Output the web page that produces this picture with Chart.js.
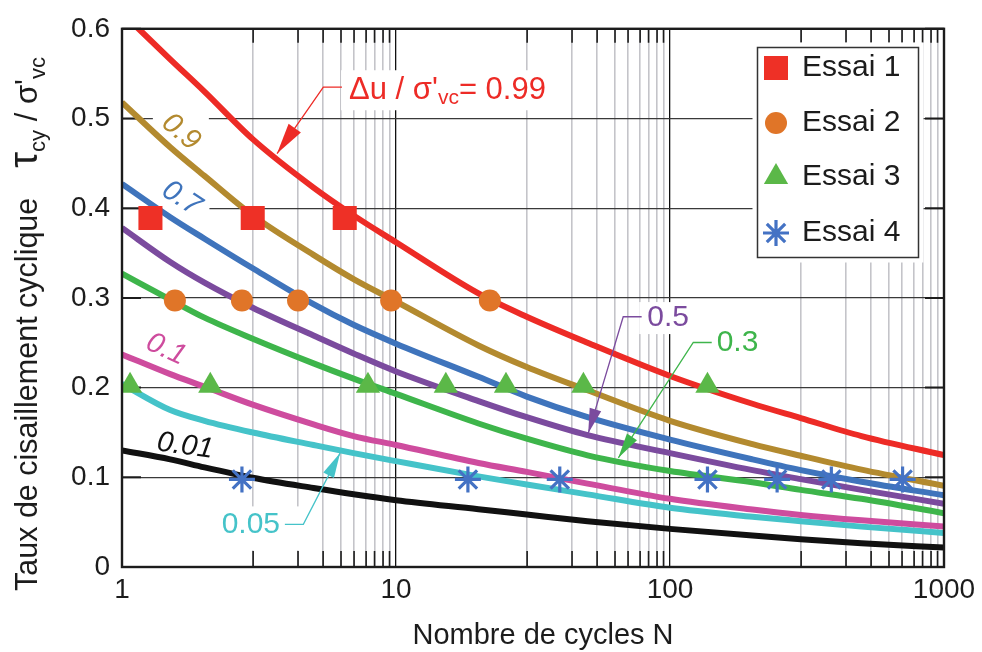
<!DOCTYPE html>
<html>
<head>
<meta charset="utf-8">
<script src="https://cdn.jsdelivr.net/npm/chart.js@4.4.1/dist/chart.umd.min.js"></script>
<style>
  html, body { margin: 0; padding: 0; background: #fff; }
</style>
</head>
<body>
<canvas id="cyclesChart" width="982" height="652"></canvas>
<script>
// Number of cycles N (log axis) at which the curves are sampled
const cycles = [1, 1.5, 2, 3, 5, 7, 10, 20, 30, 50, 100, 200, 300, 500, 1000];

// Cyclic shear ratio tau_cy / sigma'_vc for each pore pressure ratio du / sigma'_vc
const tau099 = [0.618, 0.566, 0.53, 0.477, 0.423, 0.392, 0.362, 0.305, 0.279, 0.25, 0.213, 0.182, 0.166, 0.146, 0.1247];
const tau090 = [0.518, 0.468, 0.436, 0.392, 0.348, 0.321, 0.296, 0.247, 0.223, 0.197, 0.163, 0.137, 0.124, 0.1085, 0.0905];
const tau070 = [0.427, 0.39, 0.366, 0.333, 0.293, 0.27, 0.249, 0.212, 0.19, 0.167, 0.142, 0.12, 0.108, 0.095, 0.08];
const tau050 = [0.378, 0.34, 0.317, 0.289, 0.258, 0.238, 0.218, 0.185, 0.167, 0.147, 0.127, 0.108, 0.098, 0.086, 0.0705];
const tau030 = [0.327, 0.298, 0.278, 0.2545, 0.227, 0.21, 0.193, 0.16, 0.143, 0.1245, 0.107, 0.0945, 0.086, 0.076, 0.06];
const tau010 = [0.237, 0.215, 0.201, 0.181, 0.159, 0.146, 0.136, 0.116, 0.106, 0.093, 0.076, 0.064, 0.058, 0.052, 0.0452];
const tau005 = [0.204, 0.175, 0.163, 0.15, 0.136, 0.127, 0.118, 0.101, 0.092, 0.081, 0.066, 0.056, 0.051, 0.045, 0.038];
const tau001 = [0.13, 0.12, 0.111, 0.0995, 0.088, 0.081, 0.0745, 0.0645, 0.0585, 0.051, 0.0425, 0.035, 0.031, 0.0265, 0.0217];

// Test results
const essai1N = [1.27, 3.0, 6.5];
const essai1Tau = [0.389, 0.389, 0.389];
const essai2N = [1.56, 2.74, 4.39, 9.6, 22.0];
const essai2Tau = [0.297, 0.297, 0.297, 0.297, 0.297];
const essai3N = [1.07, 2.1, 7.9, 15.2, 25.2, 48.3, 137];
const essai3Tau = [0.202, 0.202, 0.202, 0.202, 0.202, 0.202, 0.202];
const essai4N = [2.74, 18.3, 39.6, 137, 246, 388, 706];
const essai4Tau = [0.0976, 0.0976, 0.0976, 0.0976, 0.0976, 0.0976, 0.0976];

// Axis ticks
const xDecades = [1, 10, 100, 1000];
const xMinorSteps = [3.01, 4.39, 5.42, 6.3, 7.03, 7.78, 8.35, 8.97, 9.47];
const yTickValues = [0, 0.1, 0.2, 0.3, 0.4, 0.5, 0.6];

const FONT = '"Liberation Sans", Arial, Helvetica, sans-serif';
const INK = "#1c1c1c";

const xGridValues = [];
xDecades.forEach((d) => {
  xGridValues.push(d);
  if (d < 1000) xMinorSteps.forEach((s) => xGridValues.push(+(d * s).toFixed(3)));
});

const pair = (xs, ys) => xs.map((n, i) => ({ x: n, y: ys[i] }));

const curveSpecs = [
  { label: "0.99", values: tau099, color: "#ED2B26" },
  { label: "0.9", values: tau090, color: "#B38A2F" },
  { label: "0.7", values: tau070, color: "#3F74BC" },
  { label: "0.5", values: tau050, color: "#7B4B9E" },
  { label: "0.3", values: tau030, color: "#3EB54B" },
  { label: "0.1", values: tau010, color: "#CE4C9E" },
  { label: "0.05", values: tau005, color: "#45C3C9" },
  { label: "0.01", values: tau001, color: "#111111" },
];

const markerSpecs = [
  { label: "Essai 1", xs: essai1N, ys: essai1Tau, style: "rect", radius: 17, fill: "#EE3026", line: 0 },
  { label: "Essai 2", xs: essai2N, ys: essai2Tau, style: "circle", radius: 11, fill: "#E07528", line: 0 },
  { label: "Essai 3", xs: essai3N, ys: essai3Tau, style: "triangle", radius: 14, fill: "#5BB848", line: 0 },
  { label: "Essai 4", xs: essai4N, ys: essai4Tau, style: "star", radius: 13, fill: "#4472C4", line: 3.2 },
];

const datasets = [];
markerSpecs.forEach((m) => {
  datasets.push({
    label: m.label,
    data: pair(m.xs, m.ys),
    showLine: false,
    order: 0,
    pointStyle: m.style,
    pointRadius: m.radius,
    pointBackgroundColor: m.fill,
    pointBorderColor: m.fill,
    pointBorderWidth: m.line,
  });
});
curveSpecs.forEach((c) => {
  datasets.push({
    label: c.label,
    data: pair(cycles, c.values),
    order: 1,
    borderColor: c.color,
    borderWidth: 6,
    pointRadius: 0,
    cubicInterpolationMode: "monotone",
    clip: 0,
  });
});

// Callout labels placed in data coordinates (N, tau)
const callouts = [
  { text: "0.5", color: "#7B4B9E", label: [82.6, 0.2775], start: [78.8, 0.279], elbow: [67.5, 0.279], tip: [50.3, 0.149], head: 25 },
  { text: "0.3", color: "#3EB54B", label: [148, 0.2503], start: [142, 0.2503], elbow: [121.6, 0.2503], tip: [64.8, 0.1217], head: 25 },
  { text: "0.05", color: "#45C3C9", label: [2.31, 0.0475], start: [3.93, 0.0475], elbow: [4.59, 0.0475], tip: [6.25, 0.127], head: 25 },
];
const slantedLabels = [
  { text: "0.9", color: "#B38A2F", at: [1.64, 0.4848], angle: 40 },
  { text: "0.7", color: "#3F74BC", at: [1.648, 0.4109], angle: 33 },
  { text: "0.1", color: "#CE4C9E", at: [1.447, 0.2424], angle: 25 },
  { text: "0.01", color: "#111111", at: [1.7, 0.1348], angle: 8 },
];

function arrowHead(ctx, from, to, len, half, color) {
  const ang = Math.atan2(to[1] - from[1], to[0] - from[0]);
  ctx.fillStyle = color;
  ctx.beginPath();
  ctx.moveTo(to[0], to[1]);
  ctx.lineTo(to[0] - len * Math.cos(ang) + half * Math.sin(ang), to[1] - len * Math.sin(ang) - half * Math.cos(ang));
  ctx.lineTo(to[0] - len * Math.cos(ang) - half * Math.sin(ang), to[1] - len * Math.sin(ang) + half * Math.cos(ang));
  ctx.closePath();
  ctx.fill();
}

function richText(ctx, parts, x, y) {
  let cx = x;
  parts.forEach((p) => {
    ctx.font = `${p.style || ""} ${p.size}px ${FONT}`;
    ctx.fillText(p.t, cx, y + (p.dy || 0));
    cx += ctx.measureText(p.t).width + (p.gap || 0);
  });
  return cx;
}

const decor = {
  id: "decor",
  beforeDatasetsDraw(chart) {
    const { ctx, chartArea: a, scales: { x, y } } = chart;
    const P = (p) => [x.getPixelForValue(p[0]), y.getPixelForValue(p[1])];
    ctx.save();
    // white backgrounds behind the curve labels
    ctx.fillStyle = "#fff";
    slantedLabels.forEach((l) => {
      const [px, py] = P(l.at);
      if (l.angle > 20) ctx.fillRect(px - 28, py - 26, 56, 50);
    });
    const r = P([6.74, 0.5315]);
    ctx.fillRect(r[0] - 8, r[1] - 20, 215, 40);
    callouts.forEach((c) => {
      const [px, py] = P(c.label);
      const w = c.text.length * 15;
      ctx.fillRect(px - 8, py - 16, w + 16, 32);
    });
    const cyan = P(callouts[2].label);
    ctx.fillRect(cyan[0] - 6, cyan[1] - 18, 90, 44);

    // inward tick marks on all four sides
    ctx.strokeStyle = INK;
    ctx.lineWidth = 1.6;
    ctx.beginPath();
    x.ticks.forEach((t) => {
      if (xDecades.includes(t.value)) return;
      const px = x.getPixelForValue(t.value);
      ctx.moveTo(px, a.bottom);
      ctx.lineTo(px, a.bottom - 16);
      ctx.moveTo(px, a.top);
      ctx.lineTo(px, a.top + 14);
    });
    ctx.stroke();
    ctx.lineWidth = 2;
    ctx.beginPath();
    yTickValues.forEach((v) => {
      const py = y.getPixelForValue(v);
      ctx.moveTo(a.left, py);
      ctx.lineTo(a.left + 19, py);
      ctx.moveTo(a.right - 19, py);
      ctx.lineTo(a.right, py);
    });
    ctx.stroke();
    ctx.restore();
  },
  afterDatasetsDraw(chart) {
    const { ctx, chartArea: a, scales: { x, y } } = chart;
    const P = (p) => [x.getPixelForValue(p[0]), y.getPixelForValue(p[1])];
    ctx.save();

    // plot frame
    ctx.strokeStyle = INK;
    ctx.lineWidth = 2.4;
    ctx.strokeRect(a.left, a.top, a.right - a.left, a.bottom - a.top);

    // slanted italic curve labels
    ctx.textAlign = "center";
    ctx.textBaseline = "middle";
    slantedLabels.forEach((l) => {
      const [px, py] = P(l.at);
      ctx.save();
      ctx.translate(px, py);
      ctx.rotate((l.angle * Math.PI) / 180);
      ctx.font = `italic 29px ${FONT}`;
      ctx.fillStyle = l.color;
      ctx.fillText(l.text, 0, 0);
      ctx.restore();
    });

    // red label with its leader
    const red = "#ED2B26";
    ctx.textAlign = "left";
    ctx.textBaseline = "middle";
    ctx.fillStyle = red;
    const rl = P([6.74, 0.5315]);
    richText(ctx, [
      { t: "\u0394u / \u03c3'", size: 31 },
      { t: "vc", size: 21, dy: 8 },
      { t: "= 0.99", size: 31 },
    ], rl[0], rl[1]);
    ctx.strokeStyle = red;
    ctx.lineWidth = 1.3;
    const rs = P([6.35, 0.535]), re = P([5.43, 0.535]), rt = P([3.68, 0.4609]);
    ctx.beginPath();
    ctx.moveTo(rs[0], rs[1]);
    ctx.lineTo(re[0], re[1]);
    ctx.lineTo(rt[0], rt[1]);
    ctx.stroke();
    arrowHead(ctx, re, rt, 31, 7.5, red);

    // leader callouts
    callouts.forEach((c) => {
      const [lx, ly] = P(c.label);
      ctx.fillStyle = c.color;
      ctx.font = `30px ${FONT}`;
      ctx.fillText(c.text, lx, ly);
      const s = P(c.start), e = P(c.elbow), t = P(c.tip);
      ctx.strokeStyle = c.color;
      ctx.lineWidth = 1.3;
      ctx.beginPath();
      ctx.moveTo(s[0], s[1]);
      ctx.lineTo(e[0], e[1]);
      ctx.lineTo(t[0], t[1]);
      ctx.stroke();
      arrowHead(ctx, e, t, c.head, 6, c.color);
    });

    // legend
    const lg = { x: 757.5, y: 47.5, w: 161, h: 210 };
    ctx.fillStyle = "#fff";
    ctx.fillRect(lg.x - 5, lg.y - 5, lg.w + 10, lg.h + 10);
    ctx.strokeStyle = "#333";
    ctx.lineWidth = 1.5;
    ctx.strokeRect(lg.x, lg.y, lg.w, lg.h);
    const rows = [68, 123, 177, 233];
    markerSpecs.forEach((m, i) => {
      ctx.fillStyle = m.fill;
      ctx.strokeStyle = m.fill;
      ctx.lineWidth = m.line;
      Chart.helpers.drawPoint(ctx, { pointStyle: m.style, radius: m.radius, rotation: 0, borderWidth: m.line }, 776, rows[i]);
      ctx.fillStyle = INK;
      ctx.font = `30px ${FONT}`;
      ctx.textAlign = "left";
      ctx.textBaseline = "middle";
      ctx.fillText(m.label, 802, rows[i]);
    });

    // axis titles
    ctx.fillStyle = INK;
    ctx.textAlign = "center";
    ctx.textBaseline = "alphabetic";
    ctx.font = `29px ${FONT}`;
    ctx.fillText("Nombre de cycles N", 543, 644);

    ctx.save();
    ctx.translate(37, 591);
    ctx.rotate(-Math.PI / 2);
    ctx.textAlign = "left";
    richText(ctx, [
      { t: "Taux de cisaillement cyclique", size: 30.5, gap: 30 },
      { t: "\u03c4", size: 40 },
      { t: "cy", size: 22, dy: 8 },
      { t: " / \u03c3'", size: 31 },
      { t: "vc", size: 22, dy: 8 },
    ], 0, 0);
    ctx.restore();

    ctx.restore();
  },
};

new Chart(document.getElementById("cyclesChart"), {
  type: "line",
  data: { datasets },
  plugins: [decor],
  options: {
    responsive: false,
    animation: false,
    layout: { padding: { top: 15, right: 38, left: 0, bottom: 0 } },
    plugins: { legend: { display: false }, tooltip: { enabled: false } },
    scales: {
      x: {
        type: "logarithmic",
        min: 1,
        max: 1000,
        afterBuildTicks: (s) => {
          s.ticks = xGridValues.map((v) => ({ value: v, major: xDecades.includes(v) }));
        },
        afterFit: (s) => { s.height = 85; },
        ticks: {
          autoSkip: false,
          maxRotation: 0,
          padding: 6,
          color: INK,
          font: { family: FONT, size: 28 },
          callback: (v) => (xDecades.includes(v) ? String(v) : ""),
        },
        grid: {
          drawTicks: false,
          color: (c) => (c.tick && xDecades.includes(c.tick.value) ? "#111" : "#c4c4c9"),
          lineWidth: (c) => (c.tick && xDecades.includes(c.tick.value) ? 1.3 : 1.6),
        },
        border: { display: false },
      },
      y: {
        min: 0,
        max: 0.6,
        afterFit: (s) => { s.width = 122; },
        ticks: {
          stepSize: 0.1,
          padding: 12,
          color: INK,
          font: { family: FONT, size: 28 },
          callback: (v) => (Math.abs(v) < 1e-9 ? "0" : v.toFixed(1)),
        },
        grid: { drawTicks: false, color: "#3a3a3a", lineWidth: 1.3 },
        border: { display: false },
      },
    },
  },
});
</script>
</body>
</html>
